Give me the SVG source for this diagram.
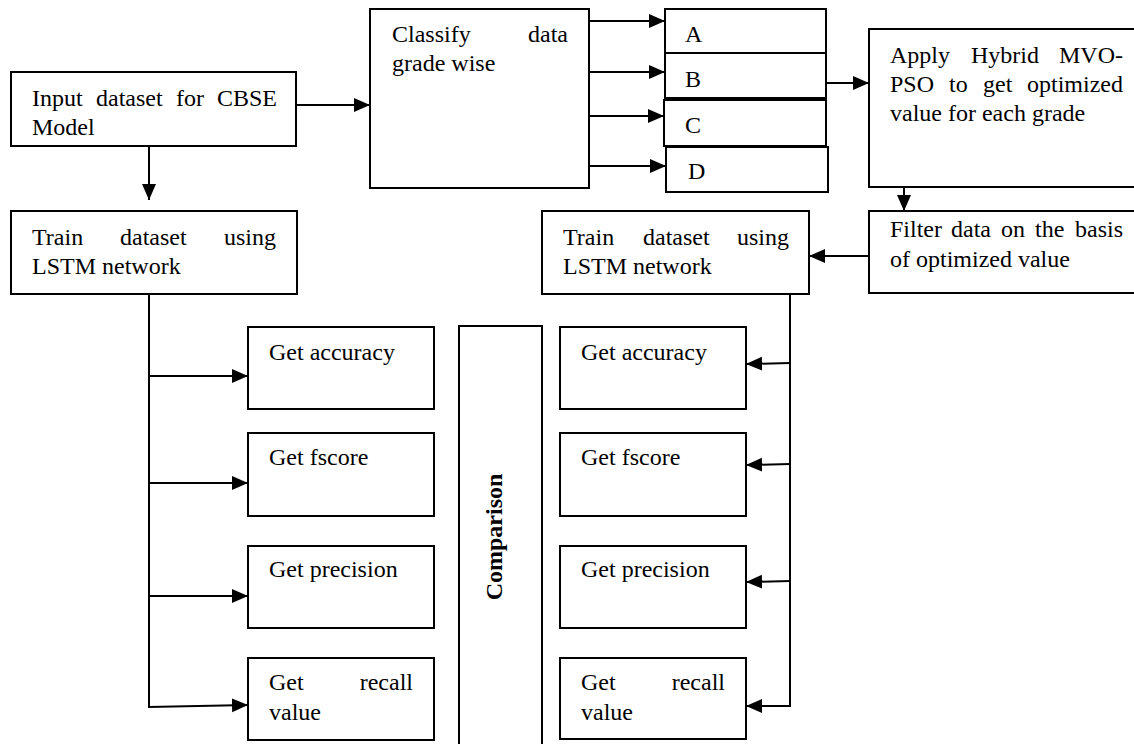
<svg xmlns="http://www.w3.org/2000/svg" width="1134" height="744" viewBox="0 0 1134 744">
  <style>
    .box { fill: #ffffff; stroke: #000000; stroke-width: 2; }
    .lbl { font-family: "Liberation Serif", "Times New Roman", serif; font-size: 24px; fill: #000000; }
    .end { text-anchor: end; }
    .bold { font-weight: bold; text-anchor: middle; }
    .wire { fill: none; stroke: #000000; stroke-width: 2; }
  </style>
  <defs>
    <marker id="arrow" markerUnits="userSpaceOnUse" markerWidth="17" markerHeight="16" viewBox="0 0 17 16" refX="16" refY="8" orient="auto">
      <path d="M0,1 L16,8 L0,15 Z" fill="#000000"/>
    </marker>
  </defs>
  <rect width="1134" height="744" fill="#ffffff"/>

  <g id="input">
    <rect class="box" x="11" y="72" width="285" height="74"/>
    <text class="lbl" x="32" y="106">Input</text>
    <text class="lbl" x="96" y="106">dataset</text>
    <text class="lbl" x="176" y="106">for</text>
    <text class="lbl end" x="277" y="106">CBSE</text>
    <text class="lbl" x="32" y="135">Model</text>
  </g>

  <g id="classify">
    <rect class="box" x="370" y="9" width="219" height="179"/>
    <text class="lbl" x="392" y="42">Classify</text>
    <text class="lbl end" x="568" y="42">data</text>
    <text class="lbl" x="392" y="71">grade wise</text>
  </g>

  <g id="grade-a">
    <rect class="box" x="665" y="9" width="161" height="44"/>
    <text class="lbl" x="685" y="42">A</text>
  </g>
  <g id="grade-b">
    <rect class="box" x="665" y="53" width="161" height="45"/>
    <text class="lbl" x="685" y="87">B</text>
  </g>
  <g id="grade-c">
    <rect class="box" x="664" y="100" width="162" height="46"/>
    <text class="lbl" x="685" y="133">C</text>
  </g>
  <g id="grade-d">
    <rect class="box" x="666" y="147" width="162" height="45"/>
    <text class="lbl" x="688" y="179">D</text>
  </g>

  <g id="hybrid">
    <rect class="box" x="869" y="29" width="267" height="158"/>
    <text class="lbl" x="890" y="63">Apply</text>
    <text class="lbl" x="971" y="63">Hybrid</text>
    <text class="lbl end" x="1123" y="63">MVO-</text>
    <text class="lbl" x="890" y="92">PSO</text>
    <text class="lbl" x="949" y="92">to</text>
    <text class="lbl" x="983" y="92">get</text>
    <text class="lbl end" x="1123" y="92">optimized</text>
    <text class="lbl" x="890" y="121">value for each grade</text>
  </g>

  <g id="filter">
    <rect class="box" x="869" y="211" width="267" height="82"/>
    <text class="lbl" x="890" y="237">Filter</text>
    <text class="lbl" x="951" y="237">data</text>
    <text class="lbl" x="1001" y="237">on</text>
    <text class="lbl" x="1035" y="237">the</text>
    <text class="lbl end" x="1123" y="237">basis</text>
    <text class="lbl" x="890" y="267">of optimized value</text>
  </g>

  <g id="train-base">
    <rect class="box" x="11" y="211" width="286" height="83"/>
    <text class="lbl" x="32" y="245">Train</text>
    <text class="lbl" x="120" y="245">dataset</text>
    <text class="lbl end" x="276" y="245">using</text>
    <text class="lbl" x="32" y="274">LSTM network</text>
  </g>

  <g id="train-opt">
    <rect class="box" x="542" y="211" width="267" height="83"/>
    <text class="lbl" x="563" y="245">Train</text>
    <text class="lbl" x="643" y="245">dataset</text>
    <text class="lbl end" x="789" y="245">using</text>
    <text class="lbl" x="563" y="274">LSTM network</text>
  </g>

  <g id="base-accuracy">
    <rect class="box" x="248" y="327" width="186" height="82"/>
    <text class="lbl" x="269" y="360">Get accuracy</text>
  </g>
  <g id="base-fscore">
    <rect class="box" x="248" y="433" width="186" height="83"/>
    <text class="lbl" x="269" y="465">Get fscore</text>
  </g>
  <g id="base-precision">
    <rect class="box" x="248" y="546" width="186" height="82"/>
    <text class="lbl" x="269" y="577">Get precision</text>
  </g>
  <g id="base-recall">
    <rect class="box" x="248" y="658" width="186" height="82"/>
    <text class="lbl" x="269" y="690">Get</text>
    <text class="lbl end" x="413" y="690">recall</text>
    <text class="lbl" x="269" y="720">value</text>
  </g>

  <g id="comparison">
    <rect class="box" x="459" y="326" width="83" height="440"/>
    <text class="lbl bold" transform="translate(502,537) rotate(-90)">Comparison</text>
  </g>

  <g id="opt-accuracy">
    <rect class="box" x="560" y="327" width="186" height="82"/>
    <text class="lbl" x="581" y="360">Get accuracy</text>
  </g>
  <g id="opt-fscore">
    <rect class="box" x="560" y="433" width="186" height="83"/>
    <text class="lbl" x="581" y="465">Get fscore</text>
  </g>
  <g id="opt-precision">
    <rect class="box" x="560" y="546" width="186" height="82"/>
    <text class="lbl" x="581" y="577">Get precision</text>
  </g>
  <g id="opt-recall">
    <rect class="box" x="560" y="658" width="186" height="81"/>
    <text class="lbl" x="581" y="690">Get</text>
    <text class="lbl end" x="725" y="690">recall</text>
    <text class="lbl" x="581" y="720">value</text>
  </g>

  <g id="connectors">
    <path class="wire" d="M296,105 H370" marker-end="url(#arrow)"/>
    <path class="wire" d="M149,146 V200" marker-end="url(#arrow)"/>
    <path class="wire" d="M589,21 H665" marker-end="url(#arrow)"/>
    <path class="wire" d="M589,72 H665" marker-end="url(#arrow)"/>
    <path class="wire" d="M589,116 H664" marker-end="url(#arrow)"/>
    <path class="wire" d="M589,166 H666" marker-end="url(#arrow)"/>
    <path class="wire" d="M826,83 H869" marker-end="url(#arrow)"/>
    <path class="wire" d="M904,187 V211" marker-end="url(#arrow)"/>
    <path class="wire" d="M869,256 H809" marker-end="url(#arrow)"/>

    <!-- base model metrics trunk -->
    <path class="wire" d="M149,294 V707 L248,705" marker-end="url(#arrow)"/>
    <path class="wire" d="M149,376 H248" marker-end="url(#arrow)"/>
    <path class="wire" d="M149,483 H248" marker-end="url(#arrow)"/>
    <path class="wire" d="M149,596 H248" marker-end="url(#arrow)"/>

    <!-- optimized model metrics trunk -->
    <path class="wire" d="M790,294 V706 H746" marker-end="url(#arrow)"/>
    <path class="wire" d="M790,363 L746,364" marker-end="url(#arrow)"/>
    <path class="wire" d="M790,464 L746,465" marker-end="url(#arrow)"/>
    <path class="wire" d="M790,581 L746,582" marker-end="url(#arrow)"/>
  </g>
</svg>
